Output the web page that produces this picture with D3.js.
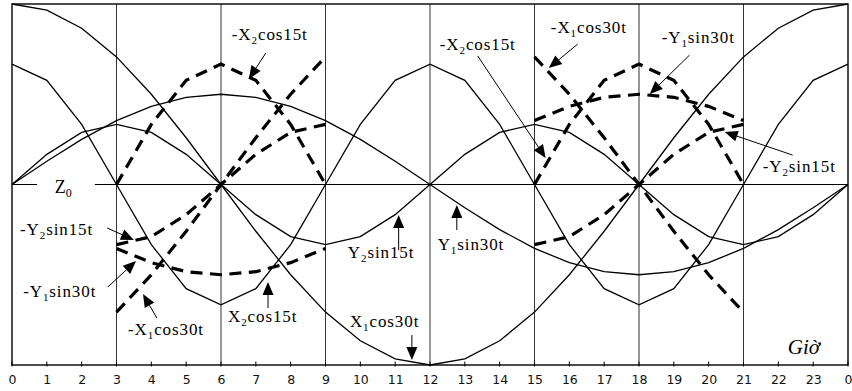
<!DOCTYPE html>
<html><head><meta charset="utf-8">
<script src="https://cdn.jsdelivr.net/npm/d3@7/dist/d3.min.js"></script>
<style>html,body{margin:0;padding:0;background:#fff;}svg{display:block;}
.lbl{font-family:"Liberation Serif","Times New Roman",serif;fill:#000;}
.tick text{font-family:"DejaVu Sans",sans-serif;}
</style>
</head><body>
<svg id="chart" width="852" height="391"></svg>
<script>
// ---- data ----
const hours = [0,1,2,3,4,5,6,7,8,9,10,11,12,13,14,15,16,17,18,19,20,21,22,23,24];
const tickLabels = ["0","1","2","3","4","5","6","7","8","9","10","11","12","13","14","15","16","17","18","19","20","21","22","23","0"];
const gridHours = [3,6,9,12,15,18,21];
const X1cos30t = [1,0.966,0.866,0.707,0.5,0.259,0,-0.259,-0.5,-0.707,-0.866,-0.966,-1,-0.966,-0.866,-0.707,-0.5,-0.259,0,0.259,0.5,0.707,0.866,0.966,1];
const X2cos15t = [0.667,0.577,0.333,0,-0.333,-0.577,-0.667,-0.577,-0.333,0,0.333,0.577,0.667,0.577,0.333,0,-0.333,-0.577,-0.667,-0.577,-0.333,0,0.333,0.577,0.667];
const Y1sin30t = [0,0.129,0.25,0.354,0.433,0.483,0.5,0.483,0.433,0.354,0.25,0.129,0,-0.129,-0.25,-0.354,-0.433,-0.483,-0.5,-0.483,-0.433,-0.354,-0.25,-0.129,0];
const Y2sin15t = [0,0.167,0.289,0.333,0.289,0.167,0,-0.167,-0.289,-0.333,-0.289,-0.167,0,0.167,0.289,0.333,0.289,0.167,0,-0.167,-0.289,-0.333,-0.289,-0.167,0];
const solidSeries = [X1cos30t, X2cos15t, Y1sin30t, Y2sin15t];
// dashed = negated series over these hour windows
const negWindows = [[3,9],[15,21]];

// ---- annotations (data coordinates: hour, value) ----
const labels = [
  {t:6.31, v:0.80,  pre:"-X", sub:"2", post:"cos15t", ax:[7.29,0.729], tip:[6.80,0.585]},
  {t:12.28,v:0.745, pre:"-X", sub:"2", post:"cos15t", ax:[13.37,0.712], tip:[15.32,0.147]},
  {t:15.47,v:0.839, pre:"-X", sub:"1", post:"cos30t", ax:[16.24,0.778], tip:[15.41,0.645]},
  {t:18.65,v:0.784, pre:"-Y", sub:"1", post:"sin30t", ax:[19.45,0.717], tip:[18.31,0.501]},
  {t:21.55,v:0.069, pre:"-Y", sub:"2", post:"sin15t", ax:[22.41,0.163], tip:[20.46,0.291]},
  {t:0.23, v:-0.280,pre:"-Y", sub:"2", post:"sin15t", ax:[2.73,-0.241], tip:[3.50,-0.307]},
  {t:0.32, v:-0.623,pre:"-Y", sub:"1", post:"sin30t", ax:[2.75,-0.568], tip:[3.56,-0.424]},
  {t:3.33, v:-0.834,pre:"-X", sub:"1", post:"cos30t", ax:[4.16,-0.740], tip:[3.76,-0.607]},
  {t:6.20, v:-0.762,pre:"X",  sub:"2", post:"cos15t", ax:[7.35,-0.684], tip:[7.35,-0.540]},
  {t:9.64, v:-0.407,pre:"Y",  sub:"2", post:"sin15t", ax:[11.10,-0.363], tip:[11.10,-0.169]},
  {t:12.22,v:-0.363,pre:"Y",  sub:"1", post:"sin30t", ax:[12.77,-0.252], tip:[12.77,-0.114]},
  {t:9.70, v:-0.789,pre:"X",  sub:"1", post:"cos30t", ax:[11.48,-0.834], tip:[11.48,-0.972]}
];

// ---- layout ----
const svg = d3.select("#chart");
const x = d3.scaleLinear().domain([0,24]).range([12,848]);
const y = d3.scaleLinear().domain([-1,1]).range([365,4]);

// vertical grid lines
svg.append("g").selectAll("line").data(gridHours).join("line")
  .attr("x1",d=>x(d)).attr("x2",d=>x(d)).attr("y1",y(1)).attr("y2",y(-1))
  .attr("stroke","#333").attr("stroke-width",1);

// Z0 line with gap for label
svg.append("g").selectAll("line").data([[0,0.72],[2.38,24]]).join("line")
  .attr("x1",d=>x(d[0])).attr("x2",d=>x(d[1])).attr("y1",y(0)).attr("y2",y(0))
  .attr("stroke","#000").attr("stroke-width",1);

// border
svg.append("rect").attr("x",x(0)).attr("y",y(1)).attr("width",x(24)-x(0)).attr("height",y(-1)-y(1))
  .attr("fill","none").attr("stroke","#000").attr("stroke-width",1.4);

// x axis
const axis = d3.axisBottom(x).tickValues(hours).tickFormat((d,i)=>tickLabels[i]).tickSize(0).tickPadding(10);
const ag = svg.append("g").attr("transform",`translate(0,${y(-1)})`).call(axis);
ag.attr("font-family",null).attr("font-size",null);
ag.select(".domain").remove();
ag.selectAll("text").style("font-family","'DejaVu Sans', sans-serif").style("font-size","12.5px").attr("fill","#111");
svg.append("g").selectAll("line").data(hours).join("line")
  .attr("x1",d=>x(d)).attr("x2",d=>x(d)).attr("y1",y(-1)-3.5).attr("y2",y(-1)+1.5)
  .attr("stroke","#000").attr("stroke-width",1);

// solid curves
const line = d3.line().x(d=>x(d[0])).y(d=>y(d[1]));
svg.append("g").selectAll("path").data(solidSeries).join("path")
  .attr("d",s=>line(hours.map((h,i)=>[h,s[i]])))
  .attr("fill","none").attr("stroke","#000").attr("stroke-width",1.3).attr("stroke-linejoin","miter");

// dashed negated curves
const dashed = [];
solidSeries.forEach(s=>negWindows.forEach(([a,b])=>{
  dashed.push(hours.filter(h=>h>=a&&h<=b).map(h=>[h,-s[hours.indexOf(h)]]));
}));
svg.append("g").selectAll("path").data(dashed).join("path")
  .attr("d",line).attr("fill","none").attr("stroke","#000").attr("stroke-width",3.2)
  .attr("stroke-dasharray","12,7.5");

// arrows
const ag2 = svg.append("g");
labels.forEach(l=>{
  const x0=x(l.ax[0]), y0=y(l.ax[1]), x1=x(l.tip[0]), y1=y(l.tip[1]);
  const dx=x1-x0, dy=y1-y0, len=Math.hypot(dx,dy), ux=dx/len, uy=dy/len;
  const hl=13, hw=5.5;
  const bx=x1-ux*hl, by=y1-uy*hl;
  ag2.append("line").attr("x1",x0).attr("y1",y0).attr("x2",bx).attr("y2",by)
    .attr("stroke","#000").attr("stroke-width",1);
  ag2.append("path").attr("d",`M${x1},${y1}L${bx-uy*hw},${by+ux*hw}L${bx+uy*hw},${by-ux*hw}Z`).attr("fill","#000");
});

// labels
const lg = svg.append("g");
labels.forEach(l=>{
  const t = lg.append("text").attr("class","lbl").attr("x",x(l.t)).attr("y",y(l.v))
    .style("font-size","17px").style("letter-spacing","0.9px");
  t.append("tspan").text(l.pre);
  t.append("tspan").style("font-size","11px").attr("dy",4).text(l.sub);
  t.append("tspan").attr("dy",-4).text(l.post);
});
// Z0
const z = lg.append("text").attr("class","lbl").attr("x",x(1.23)).attr("y",y(-0.047)).style("font-size","18px");
z.append("tspan").text("Z");
z.append("tspan").style("font-size","12px").attr("dy",4).text("0");
// Giờ
lg.append("text").attr("class","lbl").attr("x",x(22.27)).attr("y",y(-0.939))
  .style("font-size","21px").style("font-style","italic").text("Giờ");
</script>
</body></html>
